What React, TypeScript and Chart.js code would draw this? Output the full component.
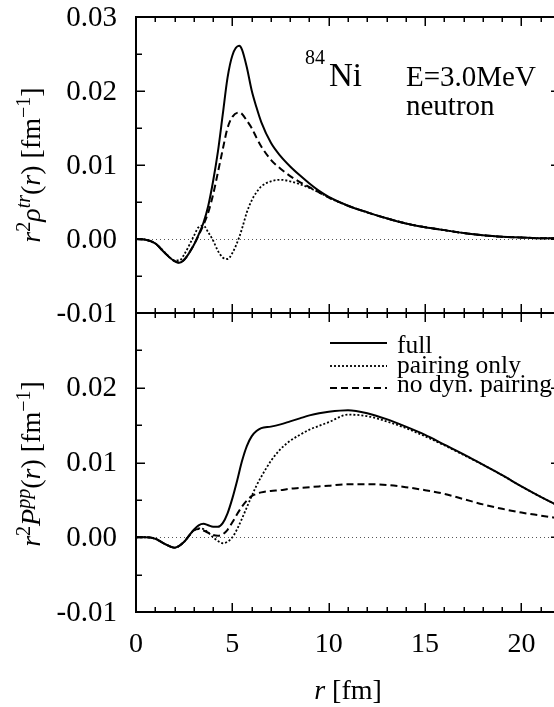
import React, { useEffect, useRef } from 'react';
import { Chart, registerables } from 'chart.js';
Chart.register(...registerables);

// ---------- data ----------
const R_TOP = [0, 0.5, 1, 1.5, 2, 2.25, 2.5, 3, 3.25, 3.5, 3.75, 4, 4.25, 4.5, 4.75, 5, 5.35, 5.5, 5.75, 6, 6.25, 6.5, 7, 7.5, 8, 8.5, 9, 9.5, 10, 11, 12, 13, 14, 15, 16, 17, 18, 19, 20, 21, 22];
const TOP_FULL = [0, -0.0001, -0.0006, -0.0019, -0.003, -0.0032, -0.0028, -0.0008, 0.0006, 0.0022, 0.0045, 0.0078, 0.0118, 0.0168, 0.0218, 0.0248, 0.0261, 0.0256, 0.0232, 0.0201, 0.0178, 0.0158, 0.013, 0.0112, 0.0098, 0.0086, 0.0075, 0.0065, 0.0057, 0.0045, 0.0036, 0.0028, 0.0021, 0.0016, 0.0012, 0.0008, 0.0005, 0.0003, 0.0002, 0.0001, 0.0001];
const TOP_PAIRING = [0, -0.0001, -0.0006, -0.0018, -0.0029, -0.0029, -0.0021, 0.0004, 0.0016, 0.0018, 0.0009, -0.0002, -0.0016, -0.0025, -0.0027, -0.0019, 0.0002, 0.0014, 0.0036, 0.0052, 0.0063, 0.0071, 0.0078, 0.008, 0.0078, 0.0074, 0.0069, 0.0063, 0.0056, 0.0045, 0.0036, 0.0028, 0.0021, 0.0016, 0.0012, 0.0008, 0.0005, 0.0003, 0.0002, 0.0001, 0.0001];
const TOP_NODYN = [0, -0.0001, -0.0006, -0.0019, -0.003, -0.0032, -0.0028, -0.0008, 0.0005, 0.0019, 0.0036, 0.006, 0.009, 0.0121, 0.015, 0.0165, 0.0171, 0.0169, 0.016, 0.015, 0.0137, 0.0125, 0.0107, 0.0095, 0.0085, 0.0077, 0.007, 0.0063, 0.0056, 0.0045, 0.0036, 0.0028, 0.0021, 0.0016, 0.0012, 0.0008, 0.0005, 0.0003, 0.0002, 0.0001, 0.0001];

const R_BOT = [0, 0.5, 1, 1.5, 2, 2.5, 2.75, 3, 3.25, 3.5, 3.75, 4, 4.25, 4.5, 4.75, 5, 5.25, 5.5, 5.75, 6, 6.25, 6.5, 7, 7.5, 8, 8.5, 9, 9.5, 10, 11, 12, 13, 14, 15, 16, 17, 18, 19, 20, 21, 22];
const BOT_FULL = [0, 0, -0.0002, -0.0009, -0.0014, -0.0006, 0.0002, 0.001, 0.0016, 0.0018, 0.0016, 0.0014, 0.0014, 0.0019, 0.0032, 0.0052, 0.0076, 0.0102, 0.0122, 0.0135, 0.0142, 0.0146, 0.0148, 0.0151, 0.0155, 0.0159, 0.0163, 0.0166, 0.0168, 0.017, 0.0166, 0.0158, 0.0148, 0.0137, 0.0124, 0.0111, 0.0097, 0.0083, 0.0068, 0.0054, 0.0041];
const BOT_PAIRING = [0, 0, -0.0002, -0.0009, -0.0014, -0.0006, 0.0002, 0.0009, 0.0012, 0.0011, 0.0006, 0, -0.0005, -0.0008, -0.0006, 0, 0.0011, 0.0025, 0.004, 0.0055, 0.0069, 0.0081, 0.0102, 0.0118, 0.0129, 0.0137, 0.0144, 0.0149, 0.0154, 0.0164, 0.0162, 0.0155, 0.0146, 0.0135, 0.0123, 0.011, 0.0097, 0.0083, 0.0068, 0.0054, 0.0041];
const BOT_NODYN = [0, 0, -0.0002, -0.0009, -0.0014, -0.0006, 0.0002, 0.0009, 0.0011, 0.0009, 0.0006, 0.0003, 0.0002, 0.0004, 0.001, 0.002, 0.0031, 0.0041, 0.0049, 0.0055, 0.0058, 0.006, 0.0062, 0.0063, 0.0065, 0.0066, 0.0067, 0.0068, 0.0069, 0.0071, 0.0071, 0.007, 0.0067, 0.0063, 0.0058, 0.0051, 0.0044, 0.0038, 0.0033, 0.0029, 0.0025];

const X_TICKS = [0, 5, 10, 15, 20];
const Y_TICKS_TOP = [0.03, 0.02, 0.01, 0.0, -0.01];
const Y_TICKS_BOT = [0.02, 0.01, 0.0, -0.01];
const LEGEND_LABELS = ['full', 'pairing only', 'no dyn. pairing'];

const SERIF = "'Liberation Serif', 'Times New Roman', serif";

type Seg = { t: string; it?: boolean; sup?: boolean };

function drawRich(ctx: CanvasRenderingContext2D, segs: Seg[], size: number, cx: number, cy: number) {
  const fontFor = (s: Seg) => `${s.it ? 'italic ' : ''}${s.sup ? Math.round(size * 0.7) : size}px ${SERIF}`;
  let w = 0;
  for (const s of segs) { ctx.font = fontFor(s); w += ctx.measureText(s.t).width; }
  let x = cx - w / 2;
  ctx.textBaseline = 'alphabetic';
  ctx.textAlign = 'left';
  const base = cy + size * 0.33;
  for (const s of segs) {
    ctx.font = fontFor(s);
    ctx.fillText(s.t, x, s.sup ? base - size * 0.38 : base);
    x += ctx.measureText(s.t).width;
  }
}

function line(ctx: CanvasRenderingContext2D, x1: number, y1: number, x2: number, y2: number) {
  ctx.beginPath(); ctx.moveTo(x1, y1); ctx.lineTo(x2, y2); ctx.stroke();
}

function makeFrame(kind: 'top' | 'bot') {
  return {
    id: 'frame_' + kind,
    beforeDatasetsDraw(chart: any) {
      const { ctx, chartArea: a, scales } = chart;
      const y0 = Math.round(scales.y.getPixelForValue(0)) + 0.5;
      ctx.save();
      ctx.strokeStyle = '#555';
      ctx.lineWidth = 1;
      ctx.setLineDash([1, 3]);
      line(ctx, a.left, y0, a.right, y0);
      ctx.restore();
    },
    afterDatasetsDraw(chart: any) {
      const { ctx, chartArea: a, scales } = chart;
      const xs = scales.x, ys = scales.y;
      ctx.save();
      ctx.strokeStyle = '#000';
      ctx.fillStyle = '#000';
      ctx.lineWidth = 2;
      ctx.strokeRect(a.left, a.top, a.right - a.left, a.bottom - a.top);
      ctx.lineWidth = 1.5;
      for (let v = 1; v < 22; v++) {
        const px = Math.round(xs.getPixelForValue(v)) + 0.25;
        const L = v % 5 === 0 ? 9 : 5;
        line(ctx, px, a.top, px, a.top + L);
        line(ctx, px, a.bottom, px, a.bottom - L);
      }
      for (let k = -1; k <= 5; k++) {
        const v = k * 0.005;
        const py = Math.round(ys.getPixelForValue(v)) + 0.25;
        const L = k % 2 === 0 ? 9 : 6;
        line(ctx, a.left, py, a.left + L, py);
        line(ctx, a.right, py, a.right - L, py);
      }
      // y tick labels
      ctx.font = `29px ${SERIF}`;
      ctx.textAlign = 'right';
      ctx.textBaseline = 'middle';
      const yt = kind === 'top' ? Y_TICKS_TOP : Y_TICKS_BOT;
      for (const v of yt) {
        ctx.fillText(v.toFixed(2), 117, ys.getPixelForValue(v) + 1);
      }
      ctx.restore();
    },
    afterDraw(chart: any) {
      const { ctx, scales } = chart;
      const xs = scales.x;
      ctx.save();
      ctx.fillStyle = '#000';
      // y-axis title (rotated)
      ctx.save();
      ctx.translate(31, kind === 'top' ? 165 : 164);
      ctx.rotate(-Math.PI / 2);
      if (kind === 'top') {
        drawRich(ctx, [
          { t: 'r', it: true }, { t: '2', sup: true }, { t: 'ρ', it: true }, { t: 'tr', it: true, sup: true },
          { t: '(' }, { t: 'r', it: true }, { t: ') [fm' }, { t: '−1', sup: true }, { t: ']' },
        ], 28, 0, 0);
      } else {
        drawRich(ctx, [
          { t: 'r', it: true }, { t: '2', sup: true }, { t: 'P', it: true }, { t: 'pp', it: true, sup: true },
          { t: '(' }, { t: 'r', it: true }, { t: ') [fm' }, { t: '−1', sup: true }, { t: ']' },
        ], 28, 0, 0);
      }
      ctx.restore();
      if (kind === 'top') {
        ctx.textAlign = 'left';
        ctx.textBaseline = 'alphabetic';
        ctx.font = `20px ${SERIF}`;
        ctx.fillText('84', 305, 64);
        ctx.font = `33px ${SERIF}`;
        ctx.fillText('Ni', 329, 86);
        ctx.font = `29px ${SERIF}`;
        ctx.fillText('E=3.0MeV', 406, 86);
        ctx.fillText('neutron', 406, 115);
      } else {
        // x tick labels
        ctx.font = `28px ${SERIF}`;
        ctx.textAlign = 'center';
        ctx.textBaseline = 'middle';
        for (const v of X_TICKS) ctx.fillText(String(v), xs.getPixelForValue(v), 345);
        drawRich(ctx, [{ t: 'r', it: true }, { t: ' [fm]' }], 28, 348, 390);
        // legend
        const ly = [43, 66, 88];
        const dashes = [[], [2, 2], [7, 4]];
        ctx.strokeStyle = '#000';
        for (let i = 0; i < 3; i++) {
          ctx.lineWidth = i === 1 ? 1.8 : 2;
          ctx.setLineDash(dashes[i]);
          line(ctx, 330, ly[i], 387, ly[i]);
        }
        ctx.setLineDash([]);
        ctx.font = `25.5px ${SERIF}`;
        ctx.textAlign = 'left';
        ctx.textBaseline = 'alphabetic';
        ctx.fillText(LEGEND_LABELS[0], 397, 53);
        ctx.fillText(LEGEND_LABELS[1], 397, 73);
        ctx.fillText(LEGEND_LABELS[2], 397, 92);
      }
      ctx.restore();
    },
  };
}

function buildDatasets(r: number[], full: number[], pairing: number[], nodyn: number[]) {
  const pts = (v: number[]) => r.map((x, i) => ({ x, y: v[i] }));
  const common = { pointRadius: 0, borderColor: '#000', fill: false, cubicInterpolationMode: 'monotone' as const };
  return [
    { ...common, label: LEGEND_LABELS[0], data: pts(full), borderWidth: 2 },
    { ...common, label: LEGEND_LABELS[1], data: pts(pairing), borderWidth: 1.8, borderDash: [2, 2] },
    { ...common, label: LEGEND_LABELS[2], data: pts(nodyn), borderWidth: 2, borderDash: [7, 4] },
  ];
}

function makeConfig(kind: 'top' | 'bot'): any {
  const ds = kind === 'top'
    ? buildDatasets(R_TOP, TOP_FULL, TOP_PAIRING, TOP_NODYN)
    : buildDatasets(R_BOT, BOT_FULL, BOT_PAIRING, BOT_NODYN);
  return {
    type: 'line',
    data: { datasets: ds },
    options: {
      animation: false,
      responsive: false,
      devicePixelRatio: 1,
      layout: { padding: kind === 'top' ? { left: 136, right: 40, top: 17, bottom: 27 } : { left: 136, right: 40, top: 13, bottom: 95 } },
      plugins: { legend: { display: false }, tooltip: { enabled: false }, title: { display: false } },
      scales: {
        x: { type: 'linear', min: 0, max: 22, display: false },
        y: { type: 'linear', min: -0.01, max: 0.03, display: false },
      },
    },
    plugins: [makeFrame(kind)],
  };
}

export default function App() {
  const topRef = useRef<HTMLCanvasElement>(null);
  const botRef = useRef<HTMLCanvasElement>(null);
  useEffect(() => {
    const c1 = new Chart(topRef.current!, makeConfig('top'));
    const c2 = new Chart(botRef.current!, makeConfig('bot'));
    return () => { c1.destroy(); c2.destroy(); };
  }, []);
  return (
    <div style={{ position: 'fixed', left: 0, top: 0, width: 554, height: 707, overflow: 'hidden', background: '#fff' }}>
      <canvas ref={topRef} width={600} height={340} style={{ position: 'absolute', left: 0, top: 0, width: 600, height: 340 }} />
      <canvas ref={botRef} width={600} height={407} style={{ position: 'absolute', left: 0, top: 300, width: 600, height: 407 }} />
    </div>
  );
}
